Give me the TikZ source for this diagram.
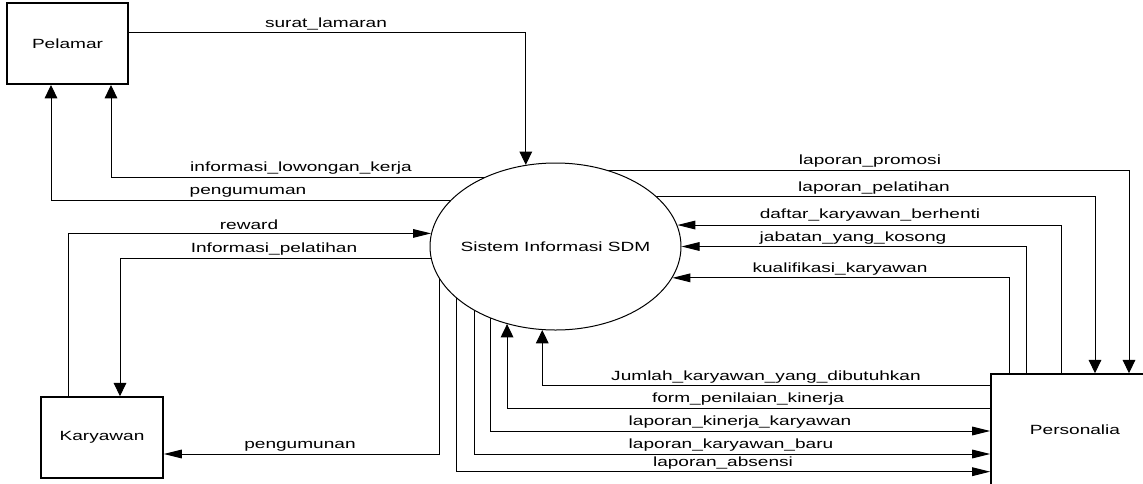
\documentclass[tikz,border=0pt]{standalone}
\usepackage{fontspec}
\setmainfont{Liberation Sans}[FakeStretch=1.43]
\usetikzlibrary{arrows.meta,backgrounds,shapes.geometric}
\begin{document}
\begin{tikzpicture}[x=0.75pt,y=-0.75pt,
  flow/.style={line width=0.75pt, draw=black},
  hA/.style={-{Triangle[length=13.5pt,width=6.5pt]}},
  vA/.style={-{Triangle[length=10pt,width=9.5pt]}},
  ent/.style={draw, line width=1.2pt, rectangle, inner sep=0pt, font=\fontsize{10}{12}\selectfont},
  lbl/.style={anchor=base, inner sep=0pt, font=\fontsize{10}{12}\selectfont},
]
\useasboundingbox (0,0) rectangle (1143,483);
\clip (0,0) rectangle (1143,483);

% entities and process
\node[ent, minimum width=90.75pt, minimum height=60.75pt] (pel) at (67.5,43.7) {Pelamar};
\node[ent, minimum width=91.5pt, minimum height=60.75pt] (kar) at (102,437.5) {Karyawan};
\node[ent, minimum width=126pt, minimum height=84pt] (per) at (1075,430) {Personalia};
\node[draw, ellipse, line width=0.75pt, fill=white, minimum width=188.25pt, minimum height=125.25pt,
      inner sep=0pt, font=\fontsize{10}{12}\selectfont] (sdm) at (555.5,246.5) {\makebox[0pt]{Sistem Informasi SDM}};

% flows leaving the process (start hidden under the ellipse)
\begin{scope}[on background layer]
\fill[white] (0,0) rectangle (1143,483);
\draw[flow,vA] (sdm.center |- 0,177.3) -| (pel.south -| 111,0);
\draw[flow,vA] (sdm.center |- 0,200) -| (pel.south -| 51,0);
\draw[flow,vA] (sdm.center |- 0,258) -| (kar.north -| 120,0);
\draw[flow,hA] (sdm.center -| 439,0) |- (kar.east |- 0,454);
\draw[flow,vA] (sdm.center |- 0,170) -| (per.north -| 1129,0);
\draw[flow,vA] (sdm.center |- 0,196.7) -| (per.north -| 1095,0);
\draw[flow,hA] (sdm.center -| 490.5,0) |- (per.west |- 0,431);
\draw[flow,hA] (sdm.center -| 474,0) |- (per.west |- 0,454);
\draw[flow,hA] (sdm.center -| 456,0) |- (per.west |- 0,471.7);
\end{scope}

% flows entering the process
\draw[flow,vA] (pel.east |- 0,32.7) -| (sdm.110.6);
\draw[flow,hA] (kar.north -| 68,0) |- (sdm.174.7);
\draw[flow,hA] (per.north -| 1061,0) |- (sdm.10.8);
\draw[flow,hA] (per.north -| 1026,0) |- (sdm.east);
\draw[flow,hA] (per.north -| 1009,0) |- (sdm.-15.17);
\draw[flow,vA] (per.west |- 0,385.7) -| (sdm.261.45);
\draw[flow,vA] (per.west |- 0,408.3) -| (sdm.238.43);

% labels
\node[lbl] (t1) at (326,27.2) {surat\_lamaran};
\node[lbl] (t2) at (301,171.8) {informasi\_lowongan\_kerja};
\node[lbl] (t3) at (248,194.5) {pengumuman};
\node[lbl] (t4) at (249,229.5) {reward};
\node[lbl] (t5) at (274,252.5) {Informasi\_pelatihan};
\node[lbl] (t6) at (300,448.5) {pengumunan};
\node[lbl] (t7) at (870,164.5) {laporan\_promosi};
\node[lbl] (t8) at (874,191.2) {laporan\_pelatihan};
\node[lbl] (t9) at (870,218) {daftar\_karyawan\_berhenti};
\node[lbl] (t10) at (853,241.2) {jabatan\_yang\_kosong};
\node[lbl] (t11) at (840,272.5) {kualifikasi\_karyawan};
\node[lbl] (t12) at (766,380.2) {Jumlah\_karyawan\_yang\_dibutuhkan};
\node[lbl] (t13) at (748,402.8) {form\_penilaian\_kinerja};
\node[lbl] (t14) at (740,425.5) {laporan\_kinerja\_karyawan};
\node[lbl] (t15) at (731,448.5) {laporan\_karyawan\_baru};
\node[lbl] (t16) at (723,466.2) {laporan\_absensi};
\end{tikzpicture}
\end{document}
